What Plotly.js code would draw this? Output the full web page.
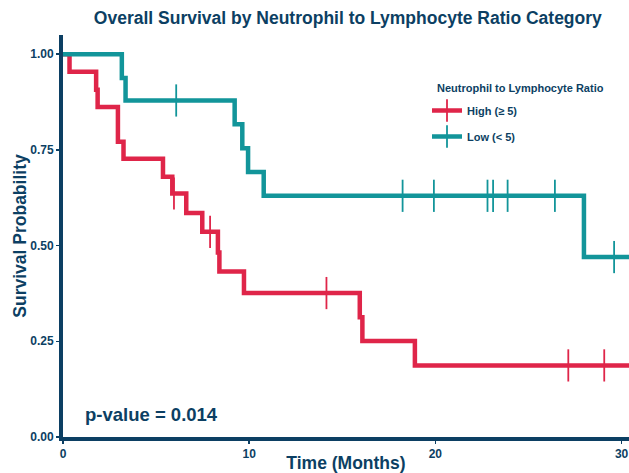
<!DOCTYPE html>
<html>
<head>
<meta charset="utf-8">
<script src="https://cdn.plot.ly/plotly-3.0.1.min.js"></script>
<style>html,body{margin:0;padding:0;background:#fff;}#chart{width:629px;height:473px;}</style>
</head>
<body>
<div id="chart"></div>
<script>
// Kaplan-Meier step data
const highTimes = [0, 0.35, 1.78, 1.86, 2.95, 3.25, 5.37, 5.87, 6.62, 7.48, 8.32, 8.40, 9.72, 15.94, 16.08, 18.9, 30.4];
const highSurv  = [1, 0.954, 0.907, 0.862, 0.771, 0.727, 0.680, 0.636, 0.585, 0.536, 0.482, 0.432, 0.376, 0.313, 0.251, 0.187, 0.187];
const highCensorTimes = [5.96, 7.9, 14.15, 27.14, 29.07];
const highCensorSurv  = [0.636, 0.536, 0.376, 0.187, 0.187];

const lowTimes = [0, 3.16, 3.36, 9.22, 9.63, 9.94, 10.78, 27.98, 30.4];
const lowSurv  = [1, 0.938, 0.879, 0.817, 0.754, 0.692, 0.630, 0.470, 0.470];
const lowCensorTimes = [6.08, 18.24, 19.92, 22.8, 23.1, 23.88, 26.42, 29.6];
const lowCensorSurv  = [0.879, 0.630, 0.630, 0.630, 0.630, 0.630, 0.630, 0.470];

const groupNames = ["High (≥ 5)", "Low (< 5)"];
const legendTitle = "Neutrophil to Lymphocyte Ratio";
const xTicks = [0, 10, 20, 30];
const yTicks = [0, 0.25, 0.5, 0.75, 1.0];
const yTickLabels = ["0.00", "0.25", "0.50", "0.75", "1.00"];
const pValueText = "p-value = 0.014";

const RED = "#DF2549";
const TEAL = "#12959A";
const NAVY = "#0C3F63";
const FONT = "Liberation Sans, Arial, sans-serif";
const b = s => "<b>" + s + "</b>";

function stepTrace(x, y, color, grp) {
  return {x: x, y: y, type: "scatter", mode: "lines", line: {shape: "hv", color: color, width: 4.5},
          showlegend: false, legendgroup: grp, hoverinfo: "skip"};
}
function censorTrace(x, y, color, grp) {
  return {x: x, y: y, type: "scatter", mode: "markers",
          marker: {symbol: "line-ns", size: 23, color: color, line: {color: color, width: 1.8}},
          showlegend: false, legendgroup: grp, hoverinfo: "skip"};
}
function legendTrace(name, color, grp) {
  return {x: [null], y: [null], type: "scatter", mode: "lines+markers", name: b(name),
          line: {color: color, width: 4.5},
          marker: {symbol: "line-ns", size: 24, color: color, line: {color: color, width: 1.8}},
          legendgroup: grp};
}

const data = [
  stepTrace(highTimes, highSurv, RED, "high"),
  stepTrace(lowTimes, lowSurv, TEAL, "low"),
  censorTrace(highCensorTimes, highCensorSurv, RED, "high"),
  censorTrace(lowCensorTimes, lowCensorSurv, TEAL, "low"),
  legendTrace(groupNames[0], RED, "high"),
  legendTrace(groupNames[1], TEAL, "low")
];

const layout = {
  width: 629, height: 473,
  margin: {l: 63, r: 0, t: 35, b: 36},
  paper_bgcolor: "#fff", plot_bgcolor: "#fff",
  font: {family: FONT, color: NAVY},
  title: {text: b("Overall Survival by Neutrophil to Lymphocyte Ratio Category"),
          font: {size: 17.5, color: NAVY, family: FONT}, x: 0.553, xanchor: "center", y: 0.962, yanchor: "middle"},
  xaxis: {range: [0, 30.4], tickvals: xTicks, ticktext: xTicks.map(v => b(String(v))),
          showgrid: false, zeroline: false, showline: true, linecolor: NAVY, linewidth: 4,
          ticks: "outside", ticklen: 3, tickwidth: 1.5, tickcolor: NAVY,
          tickfont: {size: 12, color: NAVY, family: FONT},
          title: {text: b("Time (Months)"), font: {size: 17.5, color: NAVY, family: FONT}, standoff: 6}},
  yaxis: {range: [0, 1.05], tickvals: yTicks, ticktext: yTickLabels.map(b),
          showgrid: false, zeroline: false, showline: true, linecolor: NAVY, linewidth: 4,
          ticks: "outside", ticklen: 3, tickwidth: 1.5, tickcolor: NAVY,
          tickfont: {size: 12, color: NAVY, family: FONT},
          title: {text: b("Survival Probability"), font: {size: 17.5, color: NAVY, family: FONT}, standoff: 0}},
  legend: {xref: "paper", yref: "paper", xanchor: "left", yanchor: "top", bgcolor: "rgba(0,0,0,0)",
           traceorder: "grouped", tracegroupgap: 7,
           font: {size: 11, color: NAVY, family: FONT}},
  annotations: [
    {x: 1.1, y: 0.058, xref: "x", yref: "y", xanchor: "left", yanchor: "middle",
     text: b(pValueText), showarrow: false, font: {size: 18.5, color: NAVY, family: FONT}},
    {x: 435 / 629, y: 1 - 88 / 473, xref: "paper", yref: "paper", xanchor: "left", yanchor: "middle",
     xshift: 0, text: b(legendTitle), showarrow: false, font: {size: 11, color: NAVY, family: FONT}}
  ]
};
// legend & annotation positions in paper coords
layout.legend.x = (427 - 63) / 566;
layout.legend.y = 1 - (96 - 35) / 402;
layout.annotations[1].x = (435 - 63) / 566;
layout.annotations[1].y = 1 - (88 - 35) / 402;

Plotly.newPlot("chart", data, layout, {staticPlot: true, displayModeBar: false});
</script>
</body>
</html>
